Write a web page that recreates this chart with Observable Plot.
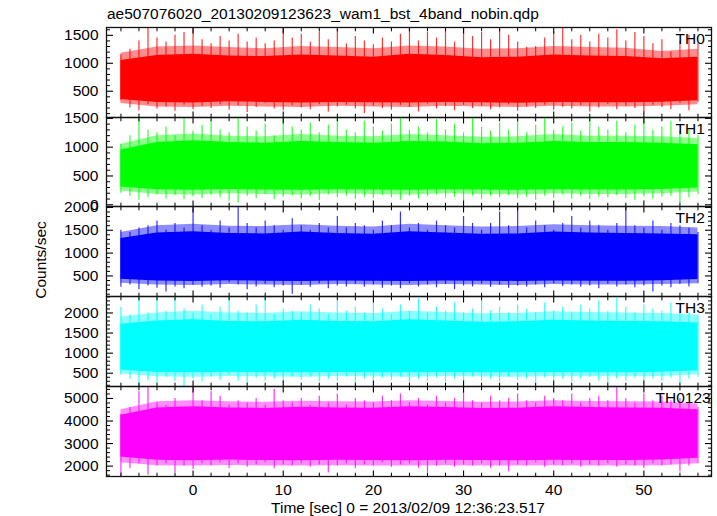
<!DOCTYPE html>
<html><head><meta charset="utf-8">
<script src="https://cdn.jsdelivr.net/npm/d3@7"></script>
<script src="https://cdn.jsdelivr.net/npm/@observablehq/plot@0.6"></script>
<style>
body{margin:0;background:#fff;}
#chart{position:relative;width:717px;height:516px;overflow:hidden;font-family:"Liberation Sans",Arial,Helvetica,sans-serif;color:#000;}
#chart svg{position:absolute;left:0;overflow:visible;}
.txt{position:absolute;font-size:15.5px;line-height:1;white-space:nowrap;}
</style>
</head><body>
<div id="chart">
  <div class="txt" id="title" style="left:107px;top:6px;"></div>
  <div class="txt" id="ylab" style="left:41px;top:260px;transform:translate(-50%,-50%) rotate(-90deg);"></div>
  <div class="txt" id="xlab" style="left:408px;top:500px;transform:translateX(-50%);"></div>
</div>
<script>
const titleText = "ae507076020_20130209123623_wam1_bst_4band_nobin.qdp";
const yLabelText = "Counts/sec";
const xLabelText = "Time [sec] 0 = 2013/02/09 12:36:23.517";
const panelNames = ["TH0", "TH1", "TH2", "TH3", "TH0123"];
const panelColors = ["#ff0000", "#00ff00", "#0000ff", "#00ffff", "#ff00ff"];

// time of each 1-s spike bin and each 4-s band sample
const tSec = [-8,-7,-6,-5,-4,-3,-2,-1,0,1,2,3,4,5,6,7,8,9,10,11,12,13,14,15,16,17,18,19,20,21,22,23,24,25,26,27,28,29,30,31,32,33,34,35,36,37,38,39,40,41,42,43,44,45,46,47,48,49,50,51,52,53,54,55,56];
const tBand = [-8,-4,0,4,8,12,16,20,24,28,32,36,40,44,48,52,56];

const xMajor = [0,10,20,30,40,50];
const xMinor = [-8,-6,-4,-2,2,4,6,8,12,14,16,18,22,24,26,28,32,34,36,38,42,44,46,48,52,54,56];

// TH0: spike extremes per second, fringe and dense band every 4 s
const th0Max = [1150,1250,1400,1640,1450, 1380,1500,1550,1640,1420, 1350,1480,1400,1520,1380, 1450,1350,1400,1640,1450, 1520,1380,1560,1420,1600, 1350,1480,1400,1330,1450, 1380,1520,1620,1400,1550, 1450,1600,1380,1640,1480, 1550,1420,1600,1500,1380, 1280,1300,1450,1560,1640, 1420,1500,1380,1520,1450, 1600,1400,1550,1480,1350, 1420,1200,1400,1500,1350];
const th0Min = [330,200,150,260,180, 220,140,250,170,230, 190,260,160,240,120, 210,280,180,150,240, 200,170,260,130,220, 250,180,100,230,190, 160,240,210,130,270, 180,220,150,250,190, 230,170,200,260,140, 220,190,250,160,210, 180,240,130,200,260, 170,230,190,120,250, 210,170,280,150,300];
const th0MidLo = [280,220,210,230,220,210,230,220,210,230,220,210,230,220,220,230,260];
const th0MidHi = [1180,1290,1310,1280,1260,1300,1280,1260,1310,1290,1250,1260,1300,1280,1270,1210,1250];
const th0Lo = [350,300,290,310,300,290,300,295,290,300,295,285,300,295,295,305,330];
const th0Hi = [1050,1140,1160,1130,1120,1150,1130,1110,1160,1140,1100,1110,1150,1130,1120,1080,1110];

// TH1
const th1Max = [1050,1200,1500,1300,1250, 1350,1200,1500,1280,1380, 1450,1300,1250,1500,1350, 1280,1400,1200,1500,1350, 1300,1420,1250,1380,1500, 1300,1250,1450,1350,1280, 1400,1500,1300,1350,1250, 1480,1300,1400,1250,1500, 1350,1280,1420,1300,1450, 1250,1380,1500,1300,1350, 1420,1280,1500,1350,1300, 1450,1250,1380,1500,1300, 1350,1450,1280,1300,1200];
const th1Min = [200,150,80,120,180, 100,160,90,140,110, 170,120,60,30,150, 110,180,90,130,160, 100,140,70,170,120, 150,90,130,110,160, 120,80,150,100,140, 170,110,130,60,150, 90,140,120,160,100, 130,80,150,110,170, 100,140,90,130,120, 160,110,80,140,100, 130,150,20,120,180];
const th1MidLo = [240,180,170,190,180,170,190,180,170,190,180,170,190,180,180,190,220];
const th1MidHi = [1050,1200,1230,1190,1180,1220,1190,1180,1220,1200,1170,1180,1220,1190,1190,1180,1150];
const th1Lo = [310,260,250,265,255,250,260,255,250,260,255,250,260,255,255,265,290];
const th1Hi = [950,1080,1110,1080,1070,1100,1080,1070,1100,1090,1060,1070,1100,1080,1080,1070,1040];

// TH2
const th2Max = [1500,1450,1550,1600,1700, 1500,1650,1550,2020,1600, 1500,1700,1550,2020,1650, 1550,1700,1600,1500,1750, 1600,1500,1650,1550,1800, 1550,1650,1600,1500,1700, 1600,1900,1550,1650,1500, 1700,1600,1550,1800,1650, 1500,1650,1900,1600,2000, 1550,1700,1600,1500,1650, 1800,1550,1700,1600,1500, 1650,2020,1600,1550,1700, 1500,1650,1600,1550,1450];
const th2Min = [250,300,200,280,230, 150,260,220,300,250, 280,230,350,300,200, 260,320,240,280,100, 300,250,330,220,280, 260,320,250,300,230, 280,220,330,260,300, 240,310,200,280,260, 320,250,300,230,280, 260,300,240,330,270, 300,250,280,220,320, 260,300,240,280,150, 280,240,310,260,330];
const th2MidLo = [340,300,290,310,300,290,310,300,290,310,300,290,310,300,300,310,330];
const th2MidHi = [1450,1600,1630,1590,1580,1620,1590,1570,1630,1600,1570,1580,1620,1600,1590,1580,1550];
const th2Lo = [430,390,380,395,385,380,390,385,380,390,385,380,390,385,385,395,420];
const th2Hi = [1320,1440,1470,1430,1420,1460,1430,1410,1470,1440,1410,1420,1460,1440,1430,1420,1400];

// TH3
const th3Max = [2150,1950,2410,2000,2410, 2050,2410,2100,2000,2200, 1950,2150,2410,2050,2000, 2200,2410,1950,2100,2050, 2000,2200,2100,1950,2300, 2050,2150,2000,2250,2100, 1950,2200,2050,2350,2000, 2150,2050,2250,2000,2100, 2300,2050,2150,2000,2200, 2100,2000,2250,2050,2150, 2000,2200,2100,2300,2050, 2410,2150,2000,2200,2100, 2050,2250,2100,2000,1950];
const th3Min = [450,350,170,300,250, 400,300,170,350,280, 400,320,450,300,230, 380,300,350,250,400, 330,400,280,350,300, 400,250,350,300,380, 320,400,270,350,300, 380,280,350,250,400, 300,350,280,400,320, 350,270,380,300,350, 280,350,400,300,250, 350,300,380,280,350, 300,380,250,350,400];
const th3MidLo = [480,410,400,420,410,400,420,410,400,420,410,400,420,410,410,420,460];
const th3MidHi = [1900,2000,2040,2000,1990,2030,2000,1990,2040,2010,1980,1990,2030,2010,2000,1990,1950];
const th3Lo = [580,520,510,525,515,510,520,515,510,520,515,510,520,515,515,525,560];
const th3Hi = [1720,1800,1830,1790,1780,1820,1790,1780,1830,1800,1770,1780,1820,1800,1790,1780,1750];

// TH0123
const th4Max = [4300,4600,5300,5530,4800, 4700,5000,4600,5530,4900, 5300,5100,4700,4900,4800, 5000,4700,5400,4900,4800, 5000,4700,5100,4800,5200, 4700,5000,4900,4800,5100, 4900,5200,4800,5000,4700, 5100,4800,5000,5300,4900, 4800,5100,4900,5000,5200, 4900,4800,5100,5000,4900, 5200,4800,5000,5100,4900, 5530,5000,4800,5200,4900, 5100,4900,5000,4800,4600];
const th4Min = [1540,1900,2100,1600,2000, 2100,1700,2000,1850,2100, 2000,2150,1900,2100,1950, 2050,2150,1900,2050,2000, 2100,1950,2050,1700,2000, 2100,1900,2050,2000,2150, 1950,2050,2100,1900,1700, 2000,2100,1950,2050,2000, 2100,1900,2000,1750,2050, 2000,2150,1950,2050,2000, 2100,1950,2050,2000,2100, 1950,2050,2000,1900,2100, 2000,2050,1750,2000,2100];
const th4MidLo = [2150,2020,2000,2030,2010,2000,2020,2010,2000,2020,2010,2000,2020,2010,2010,2020,2100];
const th4MidHi = [4500,4850,4900,4850,4830,4880,4850,4840,4900,4870,4830,4840,4900,4870,4850,4840,4750];
const th4Lo = [2400,2260,2240,2270,2250,2240,2260,2250,2240,2260,2250,2240,2260,2250,2250,2270,2350];
const th4Hi = [4250,4580,4630,4580,4560,4610,4580,4570,4630,4600,4560,4570,4630,4600,4580,4570,4500];

// y tick values per panel
const yMajor = [[500,1000,1500],[0,500,1000,1500],[500,1000,1500,2000],[500,1000,1500,2000],[2000,3000,4000,5000]];
const yMinorStep = [100,100,100,100,200];
const yDomains = [[30,1640],[-30,1515],[50,2020],[170,2410],[1540,5530]];

const maxes = [th0Max, th1Max, th2Max, th3Max, th4Max];
const mins = [th0Min, th1Min, th2Min, th3Min, th4Min];
const midLos = [th0MidLo, th1MidLo, th2MidLo, th3MidLo, th4MidLo];
const midHis = [th0MidHi, th1MidHi, th2MidHi, th3MidHi, th4MidHi];
const los = [th0Lo, th1Lo, th2Lo, th3Lo, th4Lo];
const his = [th0Hi, th1Hi, th2Hi, th3Hi, th4Hi];

// layout
const panelTops = [27,117,206,296,386];
const panelBottoms = [117,206,296,386,476];
const nameDx = [569,569,569,569,549];

const chart = document.getElementById("chart");
document.getElementById("title").textContent = titleText;
document.getElementById("ylab").textContent = yLabelText;
document.getElementById("xlab").textContent = xLabelText;

const xDomain = [-9.6, 57.5];
const fmt = d3.format("d");

panelNames.forEach((name, p) => {
  const color = panelColors[p];
  const spikes = tSec.map((t, i) => ({t, lo: mins[p][i], hi: maxes[p][i]}));
  const band = tBand.map((t, i) => ({t, mlo: midLos[p][i], mhi: midHis[p][i], lo: los[p][i], hi: his[p][i]}));
  const [d0, d1] = yDomains[p];
  const step = yMinorStep[p];
  const minor = [];
  for (let v = Math.ceil(d0 / step) * step; v <= d1; v += step) if (!yMajor[p].includes(v)) minor.push(v);
  const isLast = p === panelNames.length - 1;
  const ph = panelBottoms[p] - panelTops[p];
  const blank = () => "";
  const marks = [
    Plot.areaY(band, {x: "t", y1: "mlo", y2: "mhi", fill: color, fillOpacity: 0.45, clip: true}),
    Plot.ruleX(spikes, {x: "t", y1: "lo", y2: "hi", stroke: color, strokeWidth: 1.2, strokeOpacity: 0.8, clip: true}),
    Plot.areaY(band, {x: "t", y1: "lo", y2: "hi", fill: color, clip: true}),
    Plot.axisY(yMajor[p], {anchor: "left", tickSize: 0, tickPadding: 8, tickFormat: fmt, label: null}),
    Plot.axisY(yMajor[p], {anchor: "left", tickSize: -7, tickFormat: blank, label: null, strokeWidth: 1.1}),
    Plot.axisY(minor, {anchor: "left", tickSize: -4, tickFormat: blank, label: null, strokeWidth: 1}),
    Plot.axisY(yMajor[p], {anchor: "right", tickSize: -7, tickFormat: blank, label: null, strokeWidth: 1.1}),
    Plot.axisY(minor, {anchor: "right", tickSize: -4, tickFormat: blank, label: null, strokeWidth: 1}),
    Plot.axisX(xMajor, {anchor: "bottom", tickSize: -5.5, tickFormat: blank, label: null, strokeWidth: 1.1}),
    Plot.axisX(xMinor, {anchor: "bottom", tickSize: -3.3, tickFormat: blank, label: null, strokeWidth: 1}),
    Plot.axisX(xMajor, {anchor: "top", tickSize: -5.5, tickFormat: blank, label: null, strokeWidth: 1.1}),
    Plot.axisX(xMinor, {anchor: "top", tickSize: -3.3, tickFormat: blank, label: null, strokeWidth: 1}),
    Plot.frame({stroke: "#111", strokeWidth: 1.3}),
    Plot.text([name], {frameAnchor: "top-left", dx: nameDx[p], dy: 5.5, textAnchor: "start", lineAnchor: "top", fill: "#000"})
  ];
  if (isLast) marks.push(Plot.axisX(xMajor, {anchor: "bottom", tickSize: 0, tickPadding: 7, tickFormat: fmt, label: null}));
  const svg = Plot.plot({
    width: 717,
    height: ph + (isLast ? 40 : 0),
    marginLeft: 106,
    marginRight: 6,
    marginTop: 0,
    marginBottom: isLast ? 40 : 0,
    x: {domain: xDomain},
    y: {domain: yDomains[p]},
    style: {fontSize: "15.5px", fontFamily: "'Liberation Sans', Arial, Helvetica, sans-serif", color: "#000", background: "transparent", overflow: "visible"},
    marks
  });
  svg.style.position = "absolute";
  svg.style.top = panelTops[p] + "px";
  svg.style.left = "0px";
  chart.appendChild(svg);
});
</script>
</body></html>
